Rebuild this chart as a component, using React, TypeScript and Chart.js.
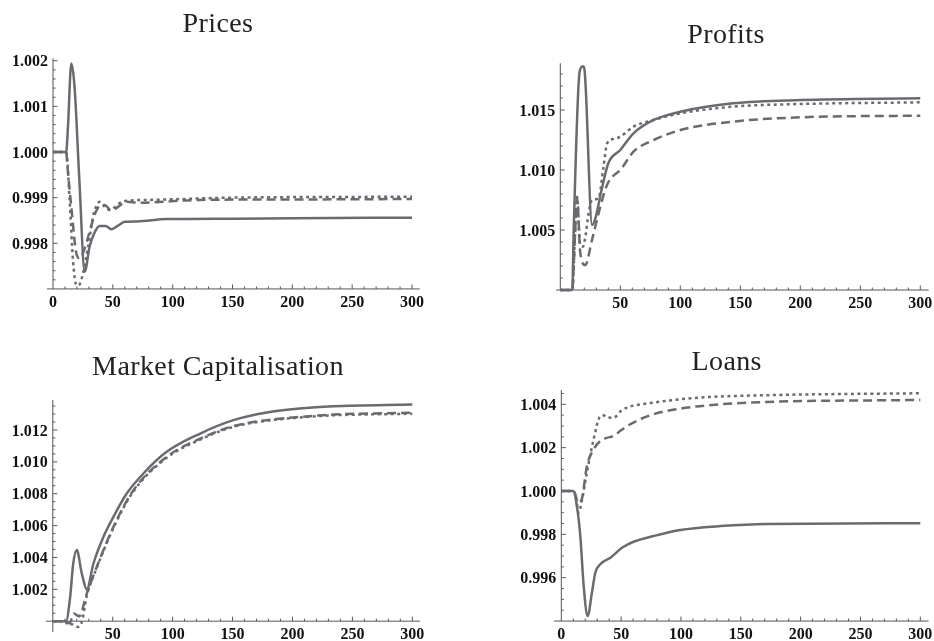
import React, { useEffect, useRef } from "react";
import { Chart, registerables } from "chart.js";

Chart.register(...registerables);

// ---------------- DATA ----------------
// Prices
const pricesSolidX = [0, 11, 12.5, 15.3, 18, 22, 26.5, 30.6, 35, 39, 44, 48.7, 54, 60, 70, 95, 150, 200, 300];
const pricesSolidY = [1.0, 1.0, 1.00055, 1.00194, 1.00143, 0.9994, 0.99738, 0.99793, 0.99825, 0.99838, 0.99838, 0.99831, 0.99838, 0.99847, 0.99848, 0.99853, 0.99854, 0.99855, 0.99856];
const pricesDashedX = [0, 11, 12, 15.3, 19.5, 22.3, 26.5, 30, 33.4, 36, 39, 43.2, 48.7, 52.9, 57, 61.3, 72, 122, 200, 300];
const pricesDashedY = [1.0, 1.0, 0.9997, 0.9988, 0.99778, 0.99767, 0.99789, 0.9982, 0.99851, 0.9987, 0.99882, 0.99884, 0.99872, 0.99877, 0.99885, 0.99891, 0.99889, 0.99895, 0.99896, 0.99897];
const pricesDottedX = [0, 11, 13.9, 16.7, 19.5, 21.5, 23.7, 27.9, 30.5, 33.4, 36, 39, 43.2, 47.4, 55.7, 61.3, 80, 150, 300];
const pricesDottedY = [1.0, 1.0, 0.99895, 0.99763, 0.99709, 0.99708, 0.9972, 0.99771, 0.9981, 0.99858, 0.9988, 0.99891, 0.9988, 0.99873, 0.99888, 0.99893, 0.99895, 0.999, 0.99902];

// Profits
const profitsSolidX = [0, 10, 11.1, 16.1, 18.9, 20, 26.5, 29, 34.4, 40, 50, 61, 77.8, 100, 144, 200, 300];
const profitsSolidY = [1.0, 1.0, 1.0047, 1.01819, 1.01864, 1.01847, 1.00542, 1.0059, 1.00833, 1.01056, 1.01167, 1.01306, 1.01417, 1.01486, 1.01556, 1.01583, 1.01597];
const profitsDashedX = [0, 10, 12, 13.9, 16.7, 20.8, 26.4, 31.9, 38.9, 44, 50, 61, 77.8, 100, 144, 200, 300];
const profitsDashedY = [1.0, 1.0, 1.004, 1.00764, 1.00306, 1.00208, 1.00417, 1.00639, 1.00875, 1.0095, 1.01, 1.01153, 1.0125, 1.01333, 1.01403, 1.01439, 1.01453];
const profitsDottedX = [0, 10, 12, 14, 16.4, 18.9, 21, 23.6, 26.4, 31.9, 36, 39, 45, 50, 61, 77.8, 100, 144, 200, 300];
const profitsDottedY = [1.0, 1.0, 1.004, 1.00778, 1.00392, 1.00361, 1.0045, 1.00639, 1.0075, 1.00764, 1.01028, 1.01222, 1.0126, 1.01278, 1.01361, 1.01417, 1.01472, 1.01528, 1.0155, 1.01564];

// Market Capitalisation
const marketSolidX = [0, 11, 14.5, 17, 20, 24.2, 28.4, 33.9, 42.3, 50.6, 61.7, 75.6, 95, 123, 150.7, 178.5, 206, 234, 300];
const marketSolidY = [1.0, 1.0, 1.00153, 1.0036, 1.00446, 1.00299, 1.00199, 1.00362, 1.0053, 1.00655, 1.00801, 1.00927, 1.01063, 1.01178, 1.01262, 1.0131, 1.01335, 1.01349, 1.0136];
const marketDashedX = [0, 10, 14, 17.5, 22, 28.4, 36.7, 50.6, 67.3, 95, 123, 150.7, 178.5, 206, 234, 300];
const marketDashedY = [1.0, 1.0, 0.99985, 1.00048, 1.0003, 1.00174, 1.00341, 1.00592, 1.00822, 1.01031, 1.01146, 1.01224, 1.01262, 1.01282, 1.01297, 1.01308];
const marketDottedX = [0, 10, 13, 16, 21, 24, 28.4, 36.7, 50.6, 67.3, 95, 123, 150.7, 178.5, 206, 234, 300];
const marketDottedY = [1.0, 1.0, 0.99975, 0.9998, 0.99964, 0.9999, 1.0016, 1.00335, 1.00585, 1.00815, 1.01025, 1.0114, 1.0122, 1.01258, 1.01278, 1.01292, 1.01302];

// Loans
const loansSolidX = [0, 10, 13, 15.9, 18.7, 22, 25.6, 28.4, 32.6, 41, 50.7, 60.4, 77, 99.4, 133, 172, 300];
const loansSolidY = [1.0, 1.0, 0.99931, 0.99792, 0.99562, 0.99423, 0.99531, 0.99623, 0.99662, 0.99692, 0.99738, 0.99766, 0.99792, 0.9982, 0.99838, 0.99848, 0.99851];
const loansDashedX = [0, 10, 12, 13.5, 17, 21.4, 27, 32.6, 38, 43.7, 50, 55, 77, 99.4, 133, 172, 300];
const loansDashedY = [1.0, 1.0, 0.9998, 0.99945, 0.9996, 1.00115, 1.00192, 1.00231, 1.00245, 1.00254, 1.0028, 1.003, 1.00354, 1.0038, 1.004, 1.00411, 1.0042];
const loansDottedX = [0, 10, 12, 14.5, 17, 21.4, 27, 32.6, 35, 38, 43.7, 50, 55, 77, 116, 172, 300];
const loansDottedY = [1.0, 1.0, 0.9998, 0.999, 0.9995, 1.00085, 1.00238, 1.00346, 1.0035, 1.0034, 1.00338, 1.0037, 1.00385, 1.00408, 1.00431, 1.00442, 1.00451];

// Tick labels
const xTicksFull = [0, 50, 100, 150, 200, 250, 300];
const xTicksNoZero = [50, 100, 150, 200, 250, 300];
const pricesYTicks = [0.998, 0.999, 1.0, 1.001, 1.002];
const profitsYTicks = [1.005, 1.01, 1.015];
const marketYTicks = [1.002, 1.004, 1.006, 1.008, 1.01, 1.012];
const loansYTicks = [0.996, 0.998, 1.0, 1.002, 1.004];

const titles = ["Prices", "Profits", "Market Capitalisation", "Loans"];

// ---------------- STYLE ----------------
const LINE_COLOR = "rgb(106,106,112)";
const AXIS_COLOR = "#555";
const LABEL_FONT = "bold 16px 'Liberation Serif', 'Times New Roman', serif";
const TITLE_FONT = "28px 'Liberation Serif', 'Times New Roman', serif";

type PanelCfg = {
  left: number; top: number; w: number; h: number;
  title: string; titleX: number; titleY: number;
  x0px: number; x300px: number; xmin: number; xmax: number;
  yA: number; yApx: number; yB: number; yBpx: number; ymin: number; ymax: number;
  xAxisAt: number;
  xMajor: number[]; xMinorStep: number;
  yMajor: number[]; yMinorStep: number; yDecimals: number;
  series: { x: number[]; y: number[]; style: "solid" | "dashed" | "dotted" }[];
};

const panels: PanelCfg[] = [
  {
    left: 0, top: 0, w: 467, h: 320,
    title: titles[0], titleX: 218, titleY: 32,
    x0px: 53, x300px: 412, xmin: -5, xmax: 306.5,
    yA: 1.002, yApx: 60.7, yB: 0.998, yBpx: 243.3, ymin: 0.997, ymax: 1.00205,
    xAxisAt: 0.997,
    xMajor: xTicksFull, xMinorStep: 10,
    yMajor: pricesYTicks, yMinorStep: 0.0002, yDecimals: 3,
    series: [
      { x: pricesSolidX, y: pricesSolidY, style: "solid" },
      { x: pricesDashedX, y: pricesDashedY, style: "dashed" },
      { x: pricesDottedX, y: pricesDottedY, style: "dotted" },
    ],
  },
  {
    left: 467, top: 0, w: 467, h: 320,
    title: titles[1], titleX: 259, titleY: 43,
    x0px: 93.3, x300px: 453.3, xmin: -3.5, xmax: 307,
    yA: 1.015, yApx: 110, yB: 1.005, yBpx: 230, ymin: 1.0, ymax: 1.0189,
    xAxisAt: 1.0,
    xMajor: xTicksNoZero, xMinorStep: 10,
    yMajor: profitsYTicks, yMinorStep: 0.001, yDecimals: 3,
    series: [
      { x: profitsSolidX, y: profitsSolidY, style: "solid" },
      { x: profitsDashedX, y: profitsDashedY, style: "dashed" },
      { x: profitsDottedX, y: profitsDottedY, style: "dotted" },
    ],
  },
  {
    left: 0, top: 320, w: 467, h: 321,
    title: titles[2], titleX: 218, titleY: 55,
    x0px: 52.8, x300px: 412.3, xmin: -5.7, xmax: 306.4,
    yA: 1.012, yApx: 110, yB: 1.002, yBpx: 269.3, ymin: 0.99932, ymax: 1.01388,
    xAxisAt: 1.0,
    xMajor: xTicksNoZero, xMinorStep: 10,
    yMajor: marketYTicks, yMinorStep: 0.0005, yDecimals: 3,
    series: [
      { x: marketSolidX, y: marketSolidY, style: "solid" },
      { x: marketDashedX, y: marketDashedY, style: "dashed" },
      { x: marketDottedX, y: marketDottedY, style: "dotted" },
    ],
  },
  {
    left: 467, top: 320, w: 467, h: 321,
    title: titles[3], titleX: 259.7, titleY: 50,
    x0px: 94.3, x300px: 453.3, xmin: -6, xmax: 307,
    yA: 1.004, yApx: 84.3, yB: 0.996, yBpx: 257.7, ymin: 0.994, ymax: 1.00466,
    xAxisAt: 0.994,
    xMajor: xTicksFull, xMinorStep: 10,
    yMajor: loansYTicks, yMinorStep: 0.0005, yDecimals: 3,
    series: [
      { x: loansSolidX, y: loansSolidY, style: "solid" },
      { x: loansDashedX, y: loansDashedY, style: "dashed" },
      { x: loansDottedX, y: loansDottedY, style: "dotted" },
    ],
  },
];

function computePadding(c: PanelCfg) {
  const sx = (c.x300px - c.x0px) / 300;
  const left = c.x0px + c.xmin * sx;
  const right = c.x0px + c.xmax * sx;
  const sy = (c.yBpx - c.yApx) / (c.yA - c.yB);
  const top = c.yApx - (c.ymax - c.yA) * sy;
  const bottom = c.yApx + (c.yA - c.ymin) * sy;
  return { left, top, right: c.w - right, bottom: c.h - bottom };
}

function makeAxesPlugin(c: PanelCfg) {
  return {
    id: "mathAxes",
    beforeDatasetsDraw(chart: any) {
      const ctx = chart.ctx as CanvasRenderingContext2D;
      const xs = chart.scales.x;
      const ys = chart.scales.y;
      const ax = xs.getPixelForValue(0);
      const ay = ys.getPixelForValue(c.xAxisAt);
      ctx.save();
      ctx.strokeStyle = AXIS_COLOR;
      ctx.lineWidth = 1;
      // axis lines
      ctx.beginPath();
      ctx.moveTo(xs.getPixelForValue(c.xmin), ay);
      ctx.lineTo(xs.getPixelForValue(c.xmax), ay);
      ctx.moveTo(ax, ys.getPixelForValue(c.ymax));
      ctx.lineTo(ax, ys.getPixelForValue(c.ymin));
      ctx.stroke();
      // x ticks
      ctx.beginPath();
      for (let k = 1; k * c.xMinorStep <= c.xmax; k++) {
        const v = k * c.xMinorStep;
        const isMajor = v % 50 === 0;
        const px = xs.getPixelForValue(v);
        const len = isMajor ? 4.5 : 2.5;
        ctx.moveTo(px, ay);
        ctx.lineTo(px, ay - len);
      }
      // y ticks
      const kMin = Math.ceil(c.ymin / c.yMinorStep - 1e-6);
      const kMax = Math.floor(c.ymax / c.yMinorStep + 1e-6);
      for (let k = kMin; k <= kMax; k++) {
        const v = k * c.yMinorStep;
        if (v <= c.xAxisAt + 1e-9) continue;
        const isMajor = c.yMajor.some((m) => Math.abs(m - v) < 1e-9);
        const py = ys.getPixelForValue(v);
        const len = isMajor ? 4.5 : 2.5;
        ctx.moveTo(ax, py);
        ctx.lineTo(ax + len, py);
      }
      ctx.stroke();
      // labels
      ctx.fillStyle = "#111";
      ctx.font = LABEL_FONT;
      ctx.textAlign = "center";
      ctx.textBaseline = "alphabetic";
      for (const v of c.xMajor) {
        ctx.fillText(String(v), xs.getPixelForValue(v), ay + 18);
      }
      ctx.textAlign = "right";
      for (const v of c.yMajor) {
        ctx.fillText(v.toFixed(c.yDecimals), ax - 5, ys.getPixelForValue(v) + 5.5);
      }
      // title
      ctx.font = TITLE_FONT;
      ctx.fillStyle = "#222";
      ctx.textAlign = "center";
      try {
        (ctx as any).letterSpacing = "0.4px";
      } catch (e) {}
      ctx.fillText(c.title, c.titleX, c.titleY);
      try {
        (ctx as any).letterSpacing = "0px";
      } catch (e) {}
      ctx.restore();
    },
  };
}

function dashFor(style: string): number[] {
  if (style === "dashed") return [9, 5];
  if (style === "dotted") return [3, 3.5];
  return [];
}

function PanelChart({ cfg }: { cfg: PanelCfg }) {
  const ref = useRef<HTMLCanvasElement | null>(null);
  useEffect(() => {
    if (!ref.current) return;
    const pad = computePadding(cfg);
    const chart = new Chart(ref.current, {
      type: "line",
      data: {
        datasets: cfg.series.map((s) => ({
          data: s.x.map((x, i) => ({ x, y: s.y[i] })),
          borderColor: LINE_COLOR,
          borderWidth: 2.5,
          borderDash: dashFor(s.style),
          borderCapStyle: "butt" as const,
          borderJoinStyle: "round" as const,
          pointRadius: 0,
          fill: false,
          cubicInterpolationMode: "monotone" as const,
          clip: false as any,
        })),
      },
      options: {
        responsive: false,
        animation: false,
        devicePixelRatio: 1,
        layout: { padding: pad },
        plugins: {
          legend: { display: false },
          tooltip: { enabled: false },
          title: { display: false },
        },
        scales: {
          x: { type: "linear", min: cfg.xmin, max: cfg.xmax, display: false },
          y: { type: "linear", min: cfg.ymin, max: cfg.ymax, display: false },
        },
      },
      plugins: [makeAxesPlugin(cfg)],
    });
    return () => chart.destroy();
  }, [cfg]);
  return (
    <canvas
      ref={ref}
      width={cfg.w}
      height={cfg.h}
      style={{ position: "absolute", left: cfg.left, top: cfg.top, width: cfg.w, height: cfg.h }}
    />
  );
}

export default function App() {
  return (
    <div style={{ position: "fixed", left: 0, top: 0, width: 934, height: 641, background: "#fff", overflow: "hidden" }}>
      {panels.map((p, i) => (
        <PanelChart key={i} cfg={p} />
      ))}
    </div>
  );
}
